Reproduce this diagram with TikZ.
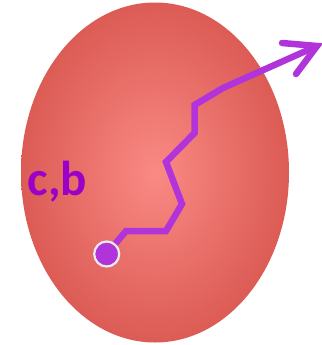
\documentclass[tikz,border=0pt]{standalone}
\usepackage{fontspec}
\setmainfont{Carlito}
\usetikzlibrary{shapes.geometric}
\definecolor{blobin}{HTML}{FA8A84}
\definecolor{blobout}{HTML}{DC5B55}
\definecolor{walk}{HTML}{B034DA}
\definecolor{lbl}{HTML}{9A00C8}
\tikzset{
  walkline/.style={draw=walk, line width=6.5pt, line join=miter, line cap=butt},
  headline/.style={draw=walk, line width=6.5pt, line cap=round, line join=miter},
  startdot/.style={circle, fill=walk, draw=white!92!black, line width=2.2pt, minimum size=25pt, inner sep=0pt},
  lbltext/.style={text=lbl, font=\bfseries\fontsize{49}{50}\selectfont, inner sep=0pt, anchor=base west}
}
\begin{document}
\begin{tikzpicture}[x=1pt,y=-1pt]
\useasboundingbox (0,0) rectangle (321,345);
\shade[inner color=blobin, outer color=blobout] (155,172.5) ellipse [x radius=134, y radius=170];
\node[lbltext] (label) at (27.5,195) {c,b};
\coordinate (p1) at (126,231);
\coordinate (p2) at (166,231);
\coordinate (p3) at (182,204);
\coordinate (p4) at (166,162);
\coordinate (p5) at (194.5,133);
\coordinate (p6) at (194.5,105);
\coordinate (p7) at (223,88);
\coordinate (tip) at (317,46);
\coordinate (h1) at (282,43);
\coordinate (h2) at (296,74);
\node[startdot] (start) at (106.7,254) {};
\draw[walkline] (start) -- (p1) -- (p2) -- (p3) -- (p4) -- (p5) -- (p6) -- (p7) -- (tip);
\draw[headline] (h1) -- (tip) -- (h2);
\end{tikzpicture}
\end{document}
